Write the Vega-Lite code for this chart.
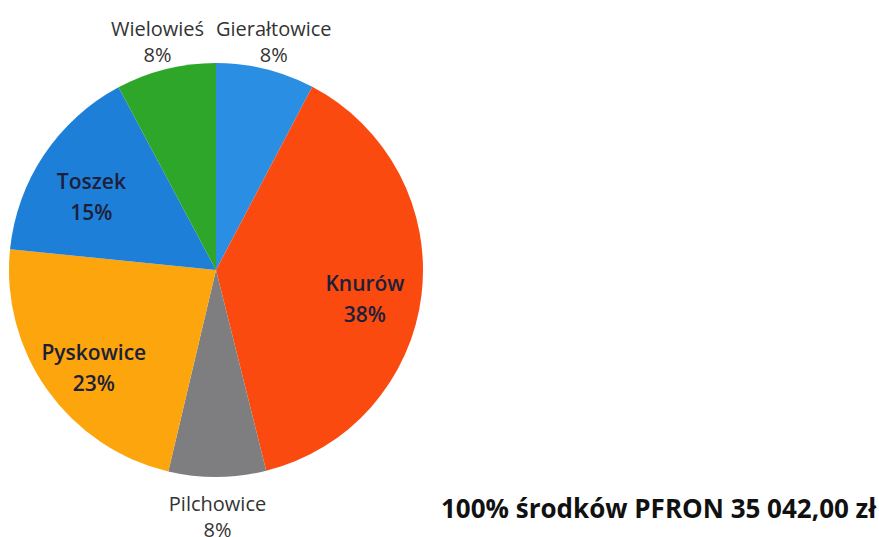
{
  "$schema": "https://vega.github.io/schema/vega-lite/v6.json",
  "width": 432,
  "height": 540,
  "autosize": "none",
  "padding": {"left": 0, "top": 0, "right": 447, "bottom": 0},
  "background": "white",
  "config": {"view": {"stroke": null}},
  "title": {
    "text": "100% środków PFRON 35 042,00 zł",
    "orient": "top",
    "anchor": "start",
    "frame": "group",
    "baseline": "alphabetic",
    "offset": 0,
    "dx": 441,
    "dy": 544,
    "font": "Open Sans",
    "fontSize": 26,
    "fontWeight": "bold",
    "color": "#111111"
  },
  "data": {
    "values": [
      {"name": "Gierałtowice", "value": 7.7, "order": 1, "pos": "out", "label": "Gierałtowice\n8%"},
      {"name": "Knurów", "value": 38.4, "order": 2, "pos": "in", "label": "Knurów\n38%"},
      {"name": "Pilchowice", "value": 7.6, "order": 3, "pos": "out", "label": "Pilchowice\n8%"},
      {"name": "Pyskowice", "value": 22.9, "order": 4, "pos": "in", "label": "Pyskowice\n23%"},
      {"name": "Toszek", "value": 15.6, "order": 5, "pos": "in", "label": "Toszek\n15%"},
      {"name": "Wielowieś", "value": 7.8, "order": 6, "pos": "out", "label": "Wielowieś\n8%"}
    ]
  },
  "encoding": {
    "theta": {"field": "value", "type": "quantitative", "stack": true},
    "order": {"field": "order", "type": "quantitative"}
  },
  "layer": [
    {
      "mark": {"type": "arc", "outerRadius": 207},
      "encoding": {
        "color": {
          "field": "name",
          "type": "nominal",
          "legend": null,
          "scale": {
            "domain": ["Gierałtowice", "Knurów", "Pilchowice", "Pyskowice", "Toszek", "Wielowieś"],
            "range": ["#2a8ee2", "#fa4a10", "#7e7e80", "#fca50c", "#1e7fd8", "#2ea62a"]
          }
        }
      }
    },
    {
      "mark": {"type": "text", "radius": 150, "dy": -3, "font": "Open Sans", "fontSize": 21, "fontWeight": 600, "lineBreak": "\n", "lineHeight": 31, "align": "center", "baseline": "middle", "color": "#1c2038"},
      "encoding": {
        "text": {"condition": {"test": "datum.pos == 'in'", "field": "label"}, "value": ""}
      }
    },
    {
      "mark": {"type": "text", "radius": 241, "dy": -6, "font": "Open Sans", "fontSize": 20, "lineBreak": "\n", "lineHeight": 26, "align": "center", "baseline": "middle", "color": "#333333"},
      "encoding": {
        "text": {"condition": {"test": "datum.pos == 'out'", "field": "label"}, "value": ""}
      }
    }
  ]
}
